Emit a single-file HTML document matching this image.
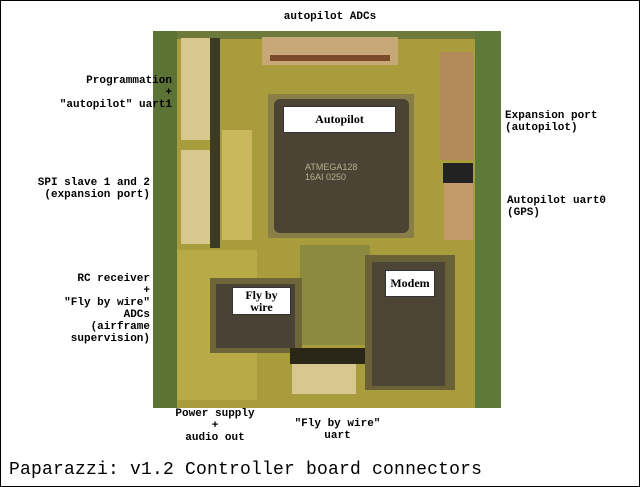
<!DOCTYPE html>
<html><head><style>
*{margin:0;padding:0;box-sizing:border-box}
body{width:640px;height:487px;background:#fff;position:relative;overflow:hidden;font-family:"Liberation Mono",monospace;font-weight:bold;color:#000}
.frame{position:absolute;left:0;top:0;width:640px;height:487px;border:1px solid #000}
.a{position:absolute}
.t{position:absolute;font-size:11px;line-height:12px;text-align:center;white-space:nowrap}
.lbl{position:absolute;background:#fff;border:1px solid #333;font-size:12px;line-height:14px;text-align:center;font-family:"Liberation Serif",serif;font-weight:bold}
</style></head><body>
<div class="frame"></div>
<!-- board -->
<div class="a" style="left:153px;top:31px;width:348px;height:377px;background:#a89c3c"></div>
<div class="a" style="left:153px;top:31px;width:24px;height:377px;background:#5c7336"></div>
<div class="a" style="left:475px;top:31px;width:26px;height:377px;background:#5f7a38"></div>
<div class="a" style="left:177px;top:31px;width:298px;height:8px;background:#6d7a3a"></div>
<div class="a" style="left:177px;top:250px;width:80px;height:150px;background:#b9aa48"></div>
<div class="a" style="left:300px;top:245px;width:70px;height:100px;background:#8c8a3e"></div>
<!-- left connectors -->
<div class="a" style="left:181px;top:38px;width:30px;height:102px;background:#d8c890"></div>
<div class="a" style="left:181px;top:150px;width:30px;height:94px;background:#d8c890"></div>
<div class="a" style="left:210px;top:38px;width:10px;height:210px;background:#3c3a22"></div>
<div class="a" style="left:222px;top:130px;width:30px;height:110px;background:#c9b85e"></div>
<!-- top connector -->
<div class="a" style="left:262px;top:37px;width:136px;height:28px;background:#c9a878"></div>
<div class="a" style="left:270px;top:55px;width:120px;height:6px;background:#7a4a2a"></div>
<!-- right connectors -->
<div class="a" style="left:440px;top:52px;width:33px;height:108px;background:#b58a5a"></div>
<div class="a" style="left:443px;top:163px;width:30px;height:20px;background:#222"></div>
<div class="a" style="left:444px;top:183px;width:29px;height:57px;background:#c59a6a"></div>
<!-- main chip -->
<div class="a" style="left:268px;top:94px;width:146px;height:144px;background:#8a7e48"></div>
<div class="a" style="left:274px;top:99px;width:135px;height:134px;background:#4b4333;border-radius:6px"></div>
<div class="a" style="left:305px;top:162px;font-size:9px;color:#b8b090;font-family:'Liberation Sans',sans-serif;font-weight:normal;line-height:10px">ATMEGA128<br>16AI 0250</div>
<div class="lbl" style="left:283px;top:106px;width:113px;height:27px;line-height:25px">Autopilot</div>
<!-- fbw chip -->
<div class="a" style="left:210px;top:278px;width:92px;height:75px;background:#6e6638"></div>
<div class="a" style="left:216px;top:284px;width:79px;height:64px;background:#4a4234"></div>
<div class="lbl" style="left:232px;top:287px;width:59px;height:28px;line-height:12px;padding-top:1px">Fly by<br>wire</div>
<!-- modem chip -->
<div class="a" style="left:365px;top:255px;width:90px;height:135px;background:#6a6236"></div>
<div class="a" style="left:372px;top:262px;width:73px;height:124px;background:#4c4434"></div>
<div class="lbl" style="left:385px;top:270px;width:50px;height:27px;line-height:25px">Modem</div>
<!-- bottom connector -->
<div class="a" style="left:290px;top:348px;width:75px;height:16px;background:#2a2618"></div>
<div class="a" style="left:292px;top:364px;width:64px;height:30px;background:#d8c890"></div>
<!-- labels -->
<div class="t" style="left:270px;top:11px;width:120px">autopilot ADCs</div>
<div class="t" style="left:42px;top:75px;width:130px;text-align:right">Programmation<br>+<br>"autopilot" uart1</div>
<div class="t" style="left:10px;top:177px;width:140px;text-align:right">SPI slave 1 and 2<br>(expansion port)</div>
<div class="t" style="left:20px;top:273px;width:130px;text-align:right">RC receiver<br>+<br>"Fly by wire"<br>ADCs<br>(airframe<br>supervision)</div>
<div class="t" style="left:505px;top:110px;text-align:left">Expansion port<br>(autopilot)</div>
<div class="t" style="left:507px;top:195px;text-align:left">Autopilot uart0<br>(GPS)</div>
<div class="t" style="left:165px;top:408px;width:100px">Power supply<br>+<br>audio out</div>
<div class="t" style="left:280px;top:418px;width:115px">"Fly by wire"<br>uart</div>
<div class="a" style="left:9px;top:460px;font-size:18px;line-height:20px;font-family:'Liberation Mono',monospace;font-weight:normal;letter-spacing:0.2px">Paparazzi: v1.2 Controller board connectors</div>
</body></html>
